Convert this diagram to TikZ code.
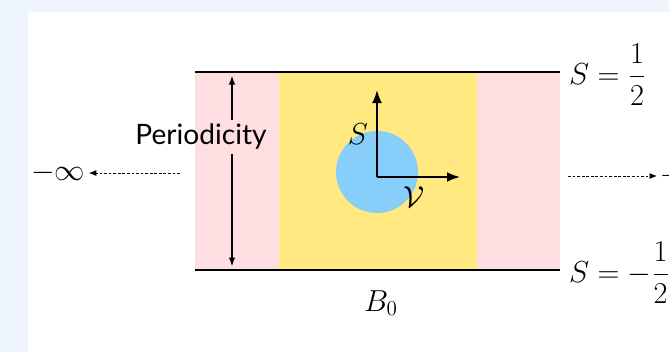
\documentclass[tikz,border=0pt]{standalone}
\usepackage{amsmath}
\usepackage{fontspec}
\newfontfamily\gillsans{Lato}
\usepackage{xcolor}
\usepackage{tikz}
\usetikzlibrary{positioning, arrows.meta}
\definecolor{fondbleu}{RGB}{238, 245, 253}
\definecolor{rosedoux}{RGB}{255, 222, 225}
\definecolor{jaunedoux}{RGB}{255, 233, 128}
\definecolor{bleuciel}{RGB}{135, 206, 250}

\begin{document}
\begin{tikzpicture}[x=0.02cm, y=-0.02cm,
    font=\fontsize{16.5pt}{20pt}\selectfont,
    bord/.style={line width=1.4pt},
    axe/.style={-{Latex[length=2.6mm, width=2mm]}, line width=1.1pt},
    periode/.style={-{Latex[length=1.7mm, width=1.3mm]}, line width=0.6pt},
    pointille/.style={-{Latex[length=1.5mm, width=1.2mm]}, line width=0.5pt,
                      dash pattern=on 1.6pt off 1pt},
    etiq/.style={inner sep=2pt}]
    \useasboundingbox (0,0) rectangle (669,352);
    % fond de la page
    \fill[fondbleu] (0,0) rectangle (669,352);
    \fill[white] (28,12) rectangle (669,352);
    % bande : bords roses, centre jaune, disque bleu
    \fill[rosedoux] (195,72) rectangle (560,270);
    \fill[jaunedoux] (279,72) rectangle (477,270);
    \fill[bleuciel] (377,172) circle[radius=0.82cm];
    \coordinate (hg) at (195,72);
    \coordinate (hd) at (560,72);
    \coordinate (bg) at (195,270);
    \coordinate (bd) at (560,270);
    \draw[bord] (hg) -- (hd);
    \draw[bord] (bg) -- (bd);
    \node[etiq, right=3pt of hd, yshift=-1.5pt] (shaut) {$S=\dfrac{1}{2}$};
    \node[etiq, right=3pt of bd, yshift=-1.5pt] (sbas) {$S=-\dfrac{1}{2}$};
    \node (bzero) at (381,303) {$B_0$};
    % axes
    \coordinate (o) at (377,177);
    \coordinate (ohaut) at (377,90);
    \coordinate (odroite) at (460,177);
    \draw[axe] (o) -- (ohaut);
    \draw[axe] (o) -- (odroite);
    \node (s) at (358,134) {$S$};
    \node (v) at (414,197) {$\mathcal{V}$};
    % periodicite
    \node[etiq, font=\gillsans\fontsize{16pt}{19pt}\selectfont] (per) at (201,137) {Periodicity};
    \coordinate (phaut) at (232,76);
    \coordinate (pbas) at (232,266);
    \draw[periode] (per.north -| phaut) -- (phaut);
    \draw[periode] (per.south -| pbas) -- (pbas);
    % vers l'infini
    \node[etiq] (minf) at (58,173) {$-\infty$};
    \coordinate (gdeb) at (180,173);
    \draw[pointille] (gdeb) -- (minf);
    \node[etiq, anchor=west] (pinf) at (657,176) {$+\infty$};
    \coordinate (ddeb) at (568,176);
    \draw[pointille] (ddeb) -- (pinf);
\end{tikzpicture}
\end{document}
